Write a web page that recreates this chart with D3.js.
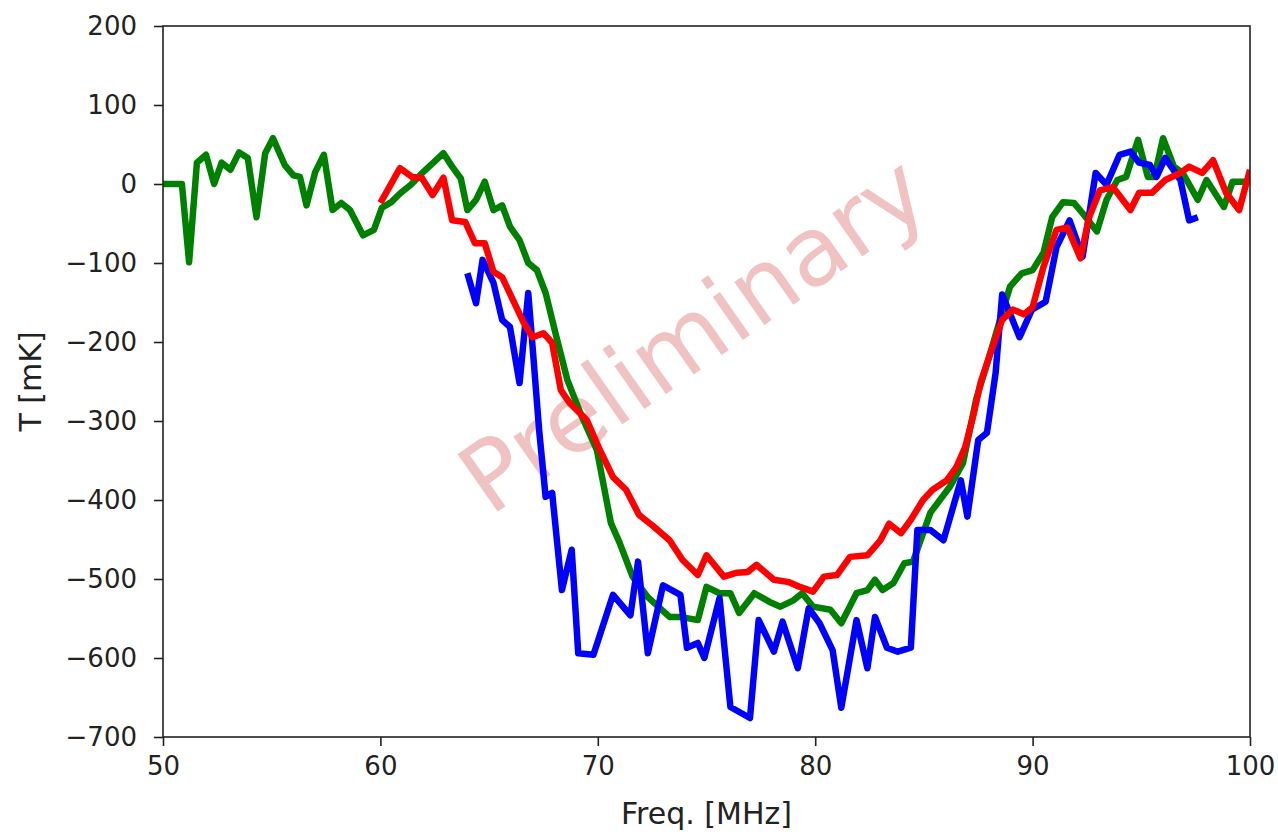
<!DOCTYPE html>
<html>
<head>
<meta charset="utf-8">
<script src="https://cdn.jsdelivr.net/npm/d3@7.9.0/dist/d3.min.js"></script>
<style>
  body { margin: 0; background: #fff; }
  svg { display: block; font-family: "DejaVu Sans", sans-serif; }
</style>
</head>
<body>
<div id="chart"></div>
<script>
// values (MHz, mK)
const greenFreq = [50.0, 50.87, 51.2, 51.56, 51.98, 52.35, 52.7, 53.1, 53.5, 53.9, 54.3, 54.7, 55.06, 55.6, 56.0, 56.3, 56.6, 57.0, 57.4, 57.8, 58.2, 58.6, 59.2, 59.7, 60.07, 60.5, 60.9, 61.4, 61.96, 62.4, 62.9, 63.3, 63.7, 64.0, 64.4, 64.8, 65.2, 65.6, 65.96, 66.4, 66.8, 67.2, 67.6, 68.1, 68.6, 69.2, 69.96, 70.6, 71.0, 71.6, 72.3, 73.3, 73.8, 74.6, 75.0, 75.6, 76.1, 76.5, 77.2, 77.9, 78.4, 79.0, 79.4, 79.9, 80.7, 81.2, 81.9, 82.4, 82.75, 83.1, 83.6, 84.1, 84.5, 85.3, 86.2, 86.8, 87.4, 88.0, 88.5, 88.96, 89.5, 90.0, 90.5, 90.9, 91.4, 91.9, 92.3, 92.96, 93.4, 93.9, 94.3, 94.85, 95.3, 95.6, 96.0, 96.5, 96.9, 97.6, 98.0, 98.8, 99.2, 99.9];
const greenT = [0, 0, -99, 27, 37, 0, 27, 18, 40, 33, -42, 39, 58, 24, 11, 9, -27, 15, 37, -33, -24, -33, -65, -58, -30, -23, -12, -1, 15, 26, 39, 22, 7, -33, -20, 3, -33, -27, -54, -71, -100, -109, -138, -194, -248, -290, -337, -429, -454, -497, -523, -548, -548, -552, -510, -518, -518, -543, -518, -529, -535, -527, -518, -535, -539, -556, -518, -514, -501, -514, -505, -480, -478, -416, -383, -353, -273, -219, -172, -130, -113, -109, -87, -42, -23, -24, -37, -60, -20, 5, 9, 56, 9, 9, 58, 22, 14, -20, 5, -29, 3, 3];

const blueFreq = [64.0, 64.4, 64.7, 65.2, 65.6, 65.96, 66.4, 66.8, 67.0, 67.3, 67.6, 67.9, 68.35, 68.8, 69.1, 69.8, 70.7, 71.5, 71.85, 72.3, 73.0, 73.8, 74.1, 74.6, 74.9, 75.6, 76.1, 77.0, 77.4, 78.1, 78.5, 79.2, 79.7, 80.2, 80.8, 81.2, 81.9, 82.4, 82.75, 83.3, 83.8, 84.4, 84.7, 85.3, 85.9, 86.7, 87.0, 87.5, 87.9, 88.3, 88.6, 89.4, 89.97, 90.6, 91.1, 91.7, 92.3, 92.9, 93.4, 94.0, 94.5, 94.9, 95.4, 95.7, 96.1, 96.8, 97.2, 97.6];
const blueT = [-113, -151, -96, -125, -172, -181, -252, -138, -206, -311, -396, -391, -514, -463, -594, -596, -520, -546, -478, -594, -508, -520, -587, -581, -600, -524, -662, -676, -552, -592, -554, -613, -537, -556, -590, -663, -552, -613, -548, -587, -592, -587, -438, -438, -451, -375, -421, -324, -315, -239, -140, -194, -159, -149, -80, -46, -92, 14, -1, 37, 41, 27, 24, 9, 33, 5, -46, -42];

const redFreq = [60.0, 60.9, 61.45, 61.9, 62.4, 62.9, 63.3, 63.9, 64.35, 64.8, 65.2, 65.6, 66.1, 66.6, 67.0, 67.5, 67.9, 68.3, 68.7, 69.5, 70.1, 70.7, 71.3, 71.9, 72.5, 73.3, 73.9, 74.6, 75.0, 75.8, 76.4, 76.9, 77.3, 78.1, 78.8, 79.3, 79.9, 80.4, 81.0, 81.6, 82.4, 83.0, 83.4, 83.95, 84.4, 84.96, 85.4, 86.06, 86.5, 86.9, 87.3, 87.6, 88.0, 88.6, 89.1, 89.6, 90.0, 90.5, 91.1, 91.6, 92.2, 92.6, 93.1, 93.7, 94.5, 94.9, 95.5, 96.1, 96.8, 97.2, 97.8, 98.3, 98.9, 99.5, 100.0];
const redT = [-24, 20, 9, 8, -14, 8, -46, -48, -75, -75, -111, -118, -147, -176, -194, -189, -201, -261, -277, -299, -337, -371, -387, -419, -432, -451, -476, -495, -470, -497, -492, -491, -482, -501, -504, -510, -516, -497, -495, -472, -470, -451, -430, -442, -425, -400, -387, -375, -358, -333, -290, -252, -219, -172, -159, -165, -156, -105, -58, -55, -94, -42, -8, -4, -33, -11, -11, 5, 14, 22, 14, 30, -11, -33, 18];

const xTicks = [50, 60, 70, 80, 90, 100];
const yTicks = [200, 100, 0, -100, -200, -300, -400, -500, -600, -700];

const width = 1278, height = 834;
const margin = { top: 26, right: 28, bottom: 97, left: 163 };

const svg = d3.select('#chart').append('svg')
  .attr('width', width)
  .attr('height', height);

const x = d3.scaleLinear().domain([50, 100]).range([margin.left, width - margin.right]);
const y = d3.scaleLinear().domain([-700, 200]).range([height - margin.bottom, margin.top]);

// watermark
svg.append('text')
  .attr('transform', 'translate(697,340) rotate(-35)')
  .attr('text-anchor', 'middle')
  .attr('dominant-baseline', 'middle')
  .attr('font-size', 96)
  .attr('fill', '#f1c2c2')
  .text('Preliminary');

const line = d3.line()
  .x(d => x(d[0]))
  .y(d => y(d[1]));

const series = [
  { f: greenFreq, t: greenT, color: '#008000' },
  { f: blueFreq, t: blueT, color: '#0000ff' },
  { f: redFreq, t: redT, color: '#ff0000' }
];

const plot = svg.append('g');
plot.append('clipPath').attr('id', 'clip')
  .append('rect')
  .attr('x', margin.left).attr('y', margin.top)
  .attr('width', width - margin.left - margin.right)
  .attr('height', height - margin.top - margin.bottom);

plot.selectAll('path.series')
  .data(series)
  .enter()
  .append('path')
  .attr('class', 'series')
  .attr('clip-path', 'url(#clip)')
  .attr('d', d => line(d3.zip(d.f, d.t)))
  .attr('fill', 'none')
  .attr('stroke', d => d.color)
  .attr('stroke-width', 6.5)
  .attr('stroke-linejoin', 'round')
  .attr('stroke-linecap', 'butt');

// frame
svg.append('rect')
  .attr('x', margin.left).attr('y', margin.top)
  .attr('width', width - margin.left - margin.right)
  .attr('height', height - margin.top - margin.bottom)
  .attr('fill', 'none')
  .attr('stroke', '#222')
  .attr('stroke-width', 1.6);

const xAxis = svg.append('g')
  .attr('transform', `translate(0,${height - margin.bottom})`)
  .call(d3.axisBottom(x).tickValues(xTicks).tickSize(9).tickPadding(11).tickFormat(d3.format('d')));

const yAxis = svg.append('g')
  .attr('transform', `translate(${margin.left},0)`)
  .call(d3.axisLeft(y).tickValues(yTicks).tickSize(9).tickPadding(17).tickFormat(d => d < 0 ? '\u2212' + Math.abs(d) : d));

[xAxis, yAxis].forEach(a => {
  a.select('.domain').remove();
  a.selectAll('.tick line').attr('stroke', '#222').attr('stroke-width', 1.6);
  a.selectAll('.tick text')
    .attr('fill', '#222')
    .attr('font-size', 26)
    .attr('font-family', '"DejaVu Sans", sans-serif');
});

svg.append('text')
  .attr('x', (margin.left + width - margin.right) / 2)
  .attr('y', 824)
  .attr('text-anchor', 'middle')
  .attr('font-size', 30)
  .attr('fill', '#222')
  .text('Freq. [MHz]');

svg.append('text')
  .attr('transform', `translate(41,${(margin.top + height - margin.bottom) / 2}) rotate(-90)`)
  .attr('text-anchor', 'middle')
  .attr('font-size', 30)
  .attr('fill', '#222')
  .text('T [mK]');
</script>
</body>
</html>
